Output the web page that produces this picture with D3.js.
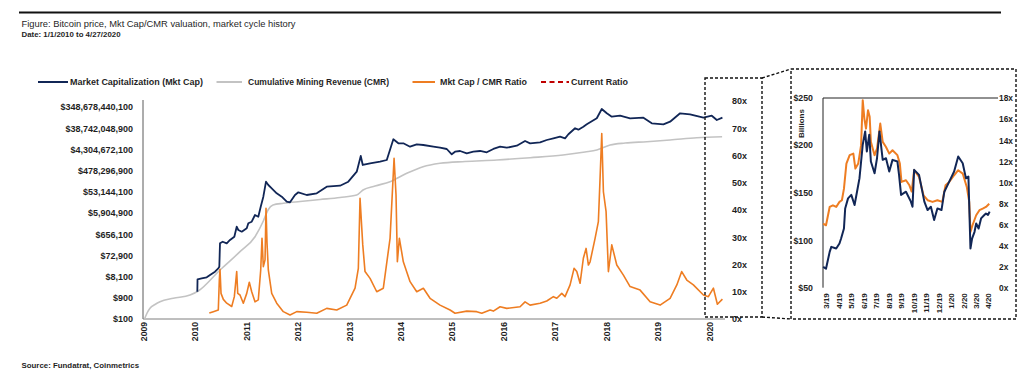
<!DOCTYPE html>
<html><head><meta charset="utf-8">
<script src="https://cdn.jsdelivr.net/npm/d3@7"></script>
<style>
html,body{margin:0;padding:0;background:#fff;}
svg text{font-family:"Liberation Sans",Arial,sans-serif;fill:#1f1f1f;}
</style></head>
<body><svg id="c" width="1024" height="382"></svg>
<script>
// ---------- DATA ----------
const yearTicks = [2009,2010,2011,2012,2013,2014,2015,2016,2017,2018,2019,2020];
const leftTicks = [100,900,8100,72900,656100,5904900,53144100,478296900,4304672100,38742048900,348678440100];
const rightTicks = [0,10,20,30,40,50,60,70,80];

const mcapYears = [2010.047,2010.051,2010.132,2010.230,2010.294,2010.391,2010.455,2010.475,2010.488,2010.541,
2010.619,2010.683,2010.767,2010.813,2010.844,2010.911,2011.008,2011.039,2011.105,2011.169,
2011.233,2011.280,2011.331,2011.383,2011.428,2011.494,2011.591,2011.689,2011.786,2011.850,
2011.947,2012.012,2012.175,2012.370,2012.564,2012.823,2012.984,2013.148,2013.226,2013.265,
2013.407,2013.601,2013.732,2013.860,2013.957,2014.054,2014.185,2014.315,2014.444,2014.638,
2014.768,2014.899,2014.996,2015.060,2015.158,2015.288,2015.416,2015.547,2015.677,2015.805,
2015.936,2016.066,2016.261,2016.422,2016.519,2016.714,2016.844,2016.973,2017.103,2017.200,
2017.265,2017.395,2017.459,2017.556,2017.623,2017.817,2017.914,2018.012,2018.109,2018.270,
2018.465,2018.724,2018.887,2019.113,2019.243,2019.438,2019.632,2019.891,2020.054,2020.152,2020.261];
const mcapValues = [1700,6120,6790,7540,9550,13450,19140,22600,255000,301000,
255000,360000,506000,1429000,1014000,850000,1210000,2032000,2399000,4800000,
4027000,11350000,32000000,151400000,107400000,76300000,45500000,32000000,19050000,17900000,
38100000,50400000,38100000,45500000,90200000,100000000,151400000,426600000,2173000000,855000000,
1019000000,1202000000,1435000000,12270000000,8090000000,8090000000,5690000000,7300000000,6790000000,5690000000,
5130000000,4490000000,2590000000,3390000000,3650000000,2870000000,3390000000,3650000000,3180000000,4500000000,
5690000000,5130000000,6310000000,10280000000,8090000000,8990000000,11400000000,13600000000,16070000000,13600000000,
20600000000,38400000000,33200000000,45300000000,58100000000,108100000000,283000000000,181500000000,127600000000,141600000000,
108100000000,115100000000,64400000000,58100000000,76000000000,181500000000,163700000000,115100000000,141600000000,90600000000,115100000000];

const cmrYears = [2009.02,2009.07,2009.126,2009.224,2009.321,2009.580,2009.905,2010.066,2010.488,2010.877,
2011.169,2011.331,2011.422,2011.519,2011.720,2012.045,2012.434,2012.823,2013.148,2013.270,
2013.504,2013.796,2014.121,2014.438,2014.768,2015.255,2015.872,2016.521,2017.161,2017.589,
2017.817,2018.076,2018.368,2018.790,2019.243,2019.763,2020.255];
const cmrValues = [100,186,303,450,601,855,1202,1820,16070,107000,
506000,2578000,8050000,13520000,16130000,19450000,23900000,29400000,38100000,64000000,
96900000,151400000,361000000,716000000,1019000000,1228000000,1435000000,1820000000,2410000000,3290000000,
4050000000,6790000000,8350000000,9570000000,11400000000,14490000000,16070000000];

const ratioYears = [2010.280,2010.358,2010.455,2010.475,2010.488,2010.508,2010.553,2010.619,2010.716,2010.767,
2010.813,2010.833,2010.877,2010.942,2011.008,2011.058,2011.105,2011.169,2011.233,2011.280,
2011.305,2011.331,2011.364,2011.383,2011.403,2011.428,2011.494,2011.591,2011.720,2011.850,
2011.981,2012.175,2012.370,2012.564,2012.759,2012.953,2013.115,2013.179,2013.212,2013.265,
2013.309,2013.407,2013.537,2013.665,2013.796,2013.874,2013.912,2013.938,2013.977,2014.054,
2014.185,2014.315,2014.444,2014.574,
2014.768,2014.963,2015.060,2015.288,2015.482,2015.580,2015.741,2015.805,2015.936,2016.066,
2016.325,2016.422,2016.519,2016.714,2016.844,2016.973,2017.039,2017.136,2017.200,2017.298,
2017.375,2017.428,2017.492,2017.556,2017.609,2017.654,2017.687,2017.784,2017.848,2017.881,
2017.914,2017.946,2017.998,2018.043,2018.109,2018.206,2018.335,2018.465,2018.660,2018.854,
2019.049,2019.243,2019.374,2019.469,2019.568,2019.696,2019.891,2019.988,2020.086,2020.163,2020.261];
const ratioValues = [2.2,2.7,3.3,14.3,18.2,9.4,7.2,5.8,4.6,8.2,
17.4,9.4,8.8,5.8,9.4,13.5,10.0,6.3,7.0,18.0,
29.6,19.2,21.7,40.6,27.8,18.0,9.4,5.8,2.7,1.5,
2.7,2.5,2.1,3.9,3.3,5.1,11.3,18.6,44.3,27.2,
17.4,14.9,10.0,11.3,29.6,59.0,45.5,21.0,29.6,21.0,
13.7,10.0,11.3,7.6,
5.1,3.3,2.1,2.9,2.7,2.1,3.3,2.9,4.5,3.9,
4.5,6.3,5.1,5.8,6.6,8.2,7.6,9.4,8.2,12.5,
18.6,17.4,13.1,22.3,25.9,19.8,21.0,29.6,35.7,51.6,
68.1,46.7,39.4,17.4,27.2,19.8,16.1,11.9,10.6,6.3,
5.1,7.6,12.5,17.4,14.3,12.5,8.8,8.2,11.3,5.4,7.3];

// inset (Mar 2019 - Apr 2020)
const insetMonthTicks = ["2019-03-01","2019-04-01","2019-05-01","2019-06-01","2019-07-01","2019-08-01","2019-09-01",
"2019-10-01","2019-11-01","2019-12-01","2020-01-01","2020-02-01","2020-03-01","2020-04-01"];
const insetLeftTicks = [50,100,150,200,250];
const insetRightTicks = [0,2,4,6,8,10,12,14,16,18];

const insetMcapDates = ["2019-02-22","2019-03-01","2019-03-10","2019-03-14","2019-03-26","2019-04-03","2019-04-07","2019-04-14","2019-04-17","2019-04-24",
"2019-05-02","2019-05-10","2019-05-16","2019-05-22","2019-05-30","2019-06-05","2019-06-09","2019-06-15","2019-06-19","2019-06-28",
"2019-07-04","2019-07-10","2019-07-18","2019-07-26","2019-08-03","2019-08-11","2019-08-23","2019-08-27","2019-09-01","2019-09-13",
"2019-09-25","2019-09-29","2019-10-03","2019-10-15","2019-10-28","2019-11-05","2019-11-13","2019-11-21","2019-11-29","2019-12-09",
"2019-12-16","2019-12-28","2020-01-09","2020-01-19","2020-01-30","2020-02-07","2020-02-13","2020-02-18","2020-02-22","2020-02-28",
"2020-03-03","2020-03-09","2020-03-15","2020-03-23","2020-03-27","2020-04-01","2020-04-05"];
const insetMcapValues = [71.9,70,87.7,93,91.2,96.5,101.7,112.3,133.4,144,
147.6,137,151,165,200.4,214.4,193.3,211,182.7,170.4,
186.2,214.4,184.5,186.2,172.2,184.5,182.7,168.7,147.6,151,
140.5,135.2,174,168.7,140.5,131.7,135.2,121.2,133.4,131.7,
151,161.6,172.2,188,181,165,167,91.2,101.7,108.8,
117.6,112.3,122.9,126.5,128.1,126.5,130];

const insetRatioDates = ["2019-02-22","2019-03-01","2019-03-10","2019-03-18","2019-03-26","2019-04-03","2019-04-09","2019-04-14","2019-04-20","2019-04-28",
"2019-05-07","2019-05-12","2019-05-19","2019-05-26","2019-05-30","2019-06-03","2019-06-07","2019-06-12","2019-06-16","2019-06-19",
"2019-06-28","2019-07-04","2019-07-12","2019-07-18","2019-07-26","2019-08-03","2019-08-11","2019-08-23","2019-08-29","2019-09-02",
"2019-09-13","2019-09-21","2019-09-27","2019-10-03","2019-10-15","2019-10-26","2019-11-05","2019-11-17","2019-11-29","2019-12-11",
"2019-12-19","2019-12-28","2020-01-09","2020-01-19","2020-01-30","2020-02-09","2020-02-15","2020-02-18","2020-02-23","2020-03-03",
"2020-03-11","2020-03-19","2020-03-27","2020-04-04"];
const insetRatioValues = [6.08,5.93,7.67,7.83,7.67,8.15,8.31,9.41,11.79,12.59,
12.74,11.31,11.79,13.54,17.81,16.06,15.11,16.86,16.23,13.85,
12.59,13.21,15.59,13.85,13.37,12.74,13.06,12.59,11.79,10.05,
10.21,9.76,9.13,11.16,10.52,8.78,8.31,8.15,8.31,8.15,
9.73,10.05,10.68,11.16,10.84,9.57,8.15,5.29,5.93,6.88,
7.36,7.51,7.67,7.98];

// ---------- DRAW ----------
const NAVY="#112656", ORANGE="#ee7d22", GRAY="#c3c3c3", RED="#c00000";
const svg = d3.select("#c");

// header
svg.append("line").attr("x1",19).attr("x2",1001).attr("y1",12.5).attr("y2",12.5)
  .attr("stroke","#111").attr("stroke-width",2.2);
svg.append("text").attr("x",21.5).attr("y",26.5).attr("font-size","9.6px")
  .attr("textLength",274).attr("lengthAdjust","spacingAndGlyphs")
  .text("Figure: Bitcoin price, Mkt Cap/CMR valuation, market cycle history");
svg.append("text").attr("x",21.5).attr("y",37).attr("font-size","7.4px").attr("font-weight","bold")
  .attr("textLength",99).attr("lengthAdjust","spacingAndGlyphs")
  .text("Date: 1/1/2010 to 4/27/2020");
svg.append("text").attr("x",21.5).attr("y",368).attr("font-size","7.4px").attr("font-weight","bold")
  .attr("textLength",117.5).attr("lengthAdjust","spacingAndGlyphs")
  .text("Source: Fundatrat, Coinmetrics");

// legend
const legend = [
  {x1:38,x2:68,tx:70,tw:133,label:"Market Capitalization (Mkt Cap)",color:NAVY,dash:null},
  {x1:216.5,x2:242,tx:248,tw:141,label:"Cumulative Mining Revenue (CMR)",color:GRAY,dash:null},
  {x1:412.5,x2:435,tx:440,tw:87,label:"Mkt Cap / CMR Ratio",color:ORANGE,dash:null},
  {x1:541,x2:569,tx:571,tw:57,label:"Current Ratio",color:RED,dash:"5,3.5"}
];
const lg = svg.append("g");
legend.forEach(d=>{
  lg.append("line").attr("x1",d.x1).attr("x2",d.x2).attr("y1",82).attr("y2",82)
    .attr("stroke",d.color).attr("stroke-width",2).attr("stroke-dasharray",d.dash);
  lg.append("text").attr("x",d.tx).attr("y",85.2).attr("font-size","9px").attr("font-weight","bold")
    .attr("textLength",d.tw).attr("lengthAdjust","spacingAndGlyphs").text(d.label);
});

// main scales
const x = d3.scaleLinear().domain([2009,2020]).range([143.5,709]);
const yL = d3.scaleLog().base(9).domain([100,348678440100]).range([319,107]);
const yR = d3.scaleLinear().domain([0,80]).range([319,101]);

const axL = svg.append("g").attr("transform","translate(143,0)")
  .call(d3.axisLeft(yL).tickValues(leftTicks).tickSize(0).tickPadding(10)
        .tickFormat(d=>"$"+d3.format(",")(d)));
axL.select(".domain").remove();
axL.selectAll("text").attr("font-size","9px").attr("font-weight","bold").attr("font-family",null);

const axR = svg.append("g").attr("transform","translate(722,0)")
  .call(d3.axisRight(yR).tickValues(rightTicks).tickSize(0).tickPadding(10).tickFormat(d=>d+"x"));
axR.select(".domain").remove();
axR.selectAll("text").attr("font-size","9px").attr("font-weight","bold").attr("font-family",null);

const axB = svg.append("g").attr("transform","translate(0,319)")
  .call(d3.axisBottom(x).tickValues(yearTicks).tickSize(0).tickFormat(d3.format("d")));
axB.select(".domain").remove();
axB.selectAll("text").attr("transform","rotate(-90)").attr("text-anchor","end")
  .attr("x",-3).attr("y",0).attr("dy","0.35em")
  .attr("font-size","8.6px").attr("font-weight","bold").attr("font-family",null);

// axis lines
svg.append("line").attr("x1",143).attr("x2",143).attr("y1",100).attr("y2",319)
  .attr("stroke","#5a5a5a").attr("stroke-width",1);
svg.append("line").attr("x1",143).attr("x2",725).attr("y1",319).attr("y2",319)
  .attr("stroke","#7f7f7f").attr("stroke-width",1);

// series
const cmrLine = d3.line().x(d=>x(d[0])).y(d=>yL(d[1])).curve(d3.curveMonotoneX);
svg.append("path").datum(d3.zip(cmrYears,cmrValues)).attr("d",cmrLine)
  .attr("fill","none").attr("stroke",GRAY).attr("stroke-width",1.6);

const mLine = d3.line().x(d=>x(d[0])).y(d=>yL(d[1]));
svg.append("path").datum(d3.zip(mcapYears,mcapValues)).attr("d",mLine)
  .attr("fill","none").attr("stroke",NAVY).attr("stroke-width",1.8).attr("stroke-linejoin","round");

const rLine = d3.line().x(d=>x(d[0])).y(d=>yR(d[1]));
svg.append("path").datum(d3.zip(ratioYears,ratioValues)).attr("d",rLine)
  .attr("fill","none").attr("stroke",ORANGE).attr("stroke-width",1.6).attr("stroke-linejoin","round");

// zoom boxes
const dash = {"stroke":"#111","stroke-width":1.4,"stroke-dasharray":"3,2","fill":"none"};
function applyDash(sel){Object.entries(dash).forEach(([k,v])=>sel.attr(k,v));return sel;}
applyDash(svg.append("rect").attr("x",705).attr("y",78).attr("width",57).attr("height",239));
applyDash(svg.append("rect").attr("x",791).attr("y",69).attr("width",225).attr("height",250));
applyDash(svg.append("line").attr("x1",762).attr("y1",78).attr("x2",791).attr("y2",69));
applyDash(svg.append("line").attr("x1",762).attr("y1",317).attr("x2",791).attr("y2",319));

// inset
const parse = d3.timeParse("%Y-%m-%d");
const xi = d3.scaleTime().domain([parse("2019-03-01"),parse("2020-04-01")]).range([826,988]);
const yiL = d3.scaleLinear().domain([50,250]).range([287.7,97.6]);
const yiR = d3.scaleLinear().domain([0,18]).range([287.7,98.2]);

const iaL = svg.append("g").attr("transform","translate(823,0)")
  .call(d3.axisLeft(yiL).tickValues(insetLeftTicks).tickSize(0).tickPadding(10).tickFormat(d=>"$"+d));
iaL.select(".domain").remove();
iaL.selectAll("text").attr("font-size","8.8px").attr("font-weight","bold").attr("font-family",null);

const iaR = svg.append("g").attr("transform","translate(990,0)")
  .call(d3.axisRight(yiR).tickValues(insetRightTicks).tickSize(0).tickPadding(9).tickFormat(d=>d+"x"));
iaR.select(".domain").remove();
iaR.selectAll("text").attr("font-size","8.4px").attr("font-weight","bold").attr("font-family",null);

const iaB = svg.append("g").attr("transform","translate(0,287.7)")
  .call(d3.axisBottom(xi).tickValues(insetMonthTicks.map(parse)).tickSize(0)
        .tickFormat(d3.timeFormat("%-m/%y")));
iaB.select(".domain").remove();
iaB.selectAll("text").attr("transform","rotate(-90)").attr("text-anchor","end")
  .attr("x",-5.5).attr("y",0).attr("dy","0.35em")
  .attr("font-size","8px").attr("font-weight","bold").attr("font-family",null);

svg.append("line").attr("x1",823).attr("x2",823).attr("y1",98).attr("y2",287.7)
  .attr("stroke","#222").attr("stroke-width",1);
svg.append("line").attr("x1",823).attr("x2",998).attr("y1",98).attr("y2",98)
  .attr("stroke","#222").attr("stroke-width",1);

svg.append("text").attr("transform","translate(803.5,123.5) rotate(-90)").attr("text-anchor","middle")
  .attr("font-size","8px").attr("font-weight","bold").text("Billions");

const iR = d3.line().x(d=>xi(parse(d[0]))).y(d=>yiR(d[1]));
svg.append("path").datum(d3.zip(insetRatioDates,insetRatioValues)).attr("d",iR)
  .attr("fill","none").attr("stroke",ORANGE).attr("stroke-width",2).attr("stroke-linejoin","round");
const iM = d3.line().x(d=>xi(parse(d[0]))).y(d=>yiL(d[1]));
svg.append("path").datum(d3.zip(insetMcapDates,insetMcapValues)).attr("d",iM)
  .attr("fill","none").attr("stroke",NAVY).attr("stroke-width",2).attr("stroke-linejoin","round");
</script></body></html>
